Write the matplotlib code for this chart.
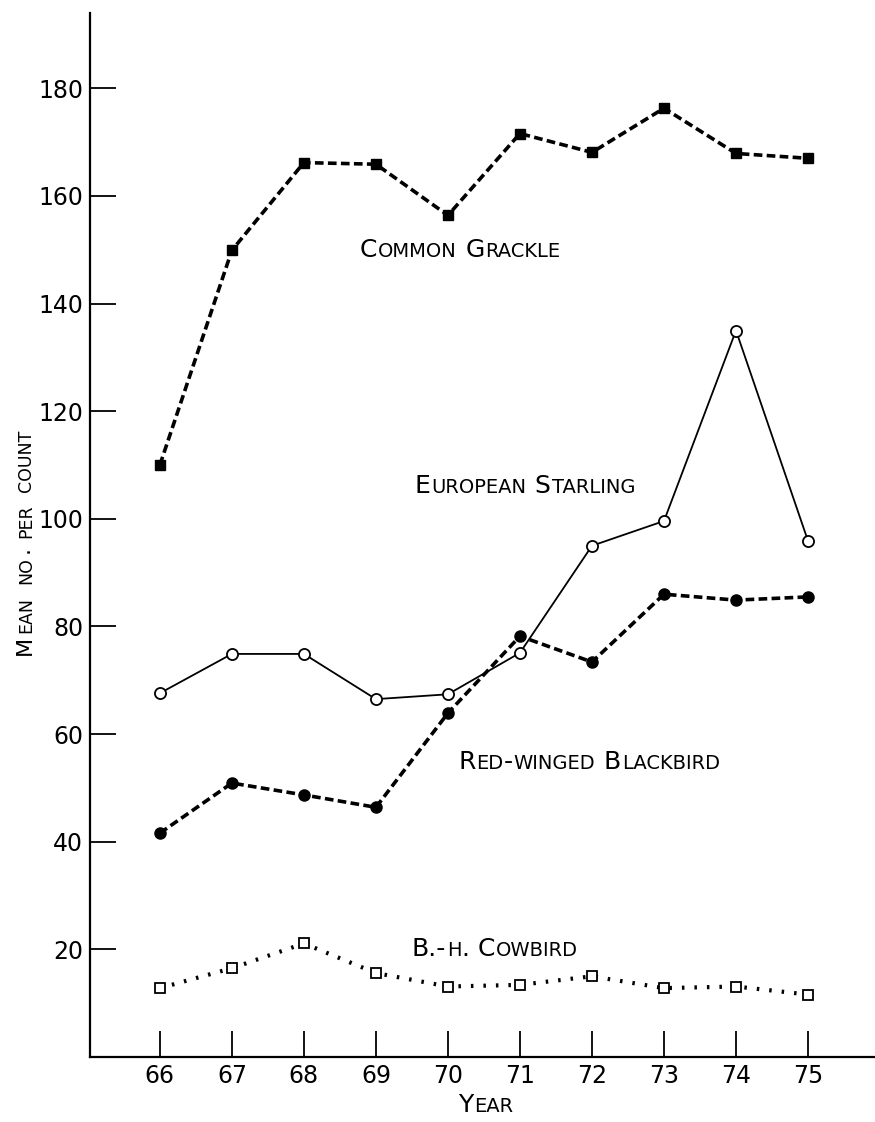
import matplotlib.pyplot as plt
from matplotlib.transforms import offset_copy

years = [66, 67, 68, 69, 70, 71, 72, 73, 74, 75]
grackle = [110.0, 149.9, 166.2, 165.9, 156.4, 171.6, 168.1, 176.3, 167.9, 167.0]
starling = [67.6, 74.9, 74.9, 66.5, 67.4, 75.1, 95.0, 99.6, 135.0, 95.9]
redwing = [41.6, 50.9, 48.7, 46.4, 63.9, 78.2, 73.4, 86.0, 84.9, 85.5]
cowbird = [12.8, 16.5, 21.1, 15.6, 13.1, 13.4, 15.0, 12.8, 13.1, 11.6]
yticks = [20, 40, 60, 80, 100, 120, 140, 160, 180]

FONT = ['DejaVu Sans']
plt.rcParams['font.family'] = FONT

fig = plt.figure(figsize=(8.75, 11.22), dpi=100)
ax = fig.add_axes([90 / 875, 65 / 1122, 1 - 90 / 875, (1057 - 13) / 1122])

ax.plot(years, grackle, color='black', lw=2.6, ls=(0, (2.4, 1.2)),
        marker='s', ms=7, mfc='black', mec='black')
ax.plot(years, starling, color='black', lw=1.3, ls='-',
        marker='o', ms=8, mfc='white', mec='black', mew=1.3)
ax.plot(years, redwing, color='black', lw=2.6, ls=(0, (2.4, 1.2)),
        marker='o', ms=8, mfc='black', mec='black')
ax.plot(years, cowbird, color='black', lw=3, ls=(0, (0.6, 2.4)),
        marker='s', ms=7, mfc='white', mec='black', mew=1.3)

ax.set_xlim(65.03, 75.93)
ax.set_ylim(0, 194)
ax.set_xticks(years)
ax.set_yticks(yticks)
ax.tick_params(direction='in', length=19, width=1.3, labelsize=17, pad=5)
ax.spines['top'].set_visible(False)
ax.spines['right'].set_visible(False)
ax.spines['left'].set_linewidth(1.6)
ax.spines['bottom'].set_linewidth(1.6)

renderer = fig.canvas.get_renderer()


def small_caps(x, y, s, big=18, small=14, rotation=0, coords=None, gap=0.5):
    # capitals big, lower case drawn as smaller capitals
    base = coords if coords is not None else ax.transData
    dx = 0.0
    pieces = []
    for ch in s:
        size = small if ch.islower() else big
        if pieces and pieces[-1][1] == size:
            pieces[-1][0] += ch.upper()
        else:
            pieces.append([ch.upper(), size])
    for text, size in pieces:
        if rotation == 90:
            tr = offset_copy(base, fig=fig, x=0, y=dx, units='points')
        else:
            tr = offset_copy(base, fig=fig, x=dx, y=0, units='points')
        t = fig.text(x, y, text, fontsize=size, transform=tr, rotation=rotation,
                     va='baseline', ha='left', rotation_mode='anchor')
        bb = t.get_window_extent(renderer)
        w = bb.height if rotation == 90 else bb.width
        dx += w * 72 / fig.dpi + gap


small_caps(68.78, 148.6, 'Common Grackle')
small_caps(69.54, 104.8, 'European Starling')
small_caps(70.14, 53.5, 'Red-winged Blackbird')
small_caps(69.50, 18.7, 'B.-h. Cowbird')
small_caps(31 / 875, 1 - 655 / 1122, 'Mean no. per count', big=16, small=12.5,
           rotation=90, coords=fig.transFigure, gap=2)
small_caps(458 / 875, 1 - 1112 / 1122, 'Year', big=18, small=14,
           coords=fig.transFigure)

fig.savefig('out.png', dpi=100)
